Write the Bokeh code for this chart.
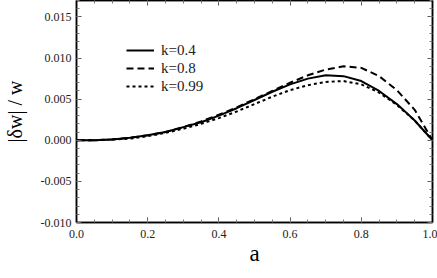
from bokeh.plotting import figure
from bokeh.models import (Range1d, FixedTicker, LinearAxis, Legend, LegendItem,
                          CustomJSTickFormatter)
from bokeh.embed import file_html
from bokeh.resources import INLINE

a_vals = [0.00, 0.05, 0.10, 0.15, 0.20, 0.25, 0.30, 0.35, 0.40, 0.45, 0.50,
          0.55, 0.60, 0.65, 0.70, 0.75, 0.80, 0.85, 0.90, 0.95, 1.00]
k04 = [0.0, 0.0, 0.0001, 0.0003, 0.0006, 0.0010, 0.0016, 0.0022, 0.0030, 0.0039, 0.0049,
       0.0059, 0.0068, 0.0075, 0.0079, 0.0078, 0.0072, 0.0060, 0.0044, 0.0024, 0.0]
k08 = [0.0, 0.0, 0.0001, 0.0003, 0.0006, 0.0010, 0.0016, 0.0023, 0.0031, 0.0040, 0.0050,
       0.0060, 0.0070, 0.0079, 0.0086, 0.0090, 0.0088, 0.0078, 0.0061, 0.0037, 0.0]
k099 = [0.0, 0.0, 0.0001, 0.0002, 0.0005, 0.0009, 0.0014, 0.0020, 0.0027, 0.0035, 0.0044,
        0.0053, 0.0061, 0.0067, 0.0071, 0.0072, 0.0068, 0.0058, 0.0043, 0.0024, 0.0]
labels = ["k=0.4", "k=0.8", "k=0.99"]

x_ticks = [0.0, 0.2, 0.4, 0.6, 0.8, 1.0]
x_tick_labels = ["0.0", "0.2", "0.4", "0.6", "0.8", "1.0"]
y_ticks = [-0.010, -0.005, 0.000, 0.005, 0.010, 0.015]
y_tick_labels = ["-0.010", "-0.005", "0.000", "0.005", "0.010", "0.015"]
x_minor = [i * 0.05 for i in range(21)]
y_minor = [round(-0.010 + i * 0.001, 4) for i in range(28)]

SERIF = "Liberation Serif"

p = figure(width=437, height=268, output_backend="svg", toolbar_location=None,
           x_range=Range1d(0, 1), y_range=Range1d(-0.010, 0.017),
           min_border_left=75, min_border_right=5, min_border_top=0, min_border_bottom=0)
p.grid.visible = False
p.outline_line_color = "black"
p.outline_line_width = 1.5
p.background_fill_color = "white"
p.border_fill_color = "white"

r1 = p.line(a_vals, k04, line_color="black", line_width=2)
r2 = p.line(a_vals, k08, line_color="black", line_width=2, line_dash="7 4")
r3 = p.line(a_vals, k099, line_color="black", line_width=2, line_dash="3 3")

xt = FixedTicker(ticks=x_ticks, minor_ticks=x_minor)
yt = FixedTicker(ticks=y_ticks, minor_ticks=y_minor)

def style_axis(ax):
    ax.axis_line_color = "black"
    ax.axis_line_width = 1.5
    ax.major_tick_in = 5
    ax.major_tick_out = 0
    ax.minor_tick_in = 3
    ax.minor_tick_out = 0
    ax.major_tick_line_color = "#555555"
    ax.minor_tick_line_color = "#777777"
    ax.major_label_text_font = SERIF
    ax.major_label_text_font_size = "12px"
    ax.major_label_text_color = "#222222"
    ax.axis_label_text_font = SERIF
    ax.axis_label_text_font_style = "normal"
    ax.axis_label_text_color = "black"

xa = p.xaxis[0]
xa.ticker = xt
xa.major_label_overrides = dict(zip(x_ticks, x_tick_labels))
xa.axis_label = "a"
style_axis(xa)
xa.axis_label_text_font_size = "23px"
xa.major_label_standoff = 7
xa.axis_label_standoff = 0

ya = p.yaxis[0]
ya.ticker = yt
ya.major_label_overrides = dict(zip(y_ticks, y_tick_labels))
ya.axis_label = "|δw| / w"
style_axis(ya)
ya.axis_label_text_font_size = "20px"
ya.major_label_standoff = 5
ya.axis_label_standoff = 12

blank = CustomJSTickFormatter(code="return ''")
ra = LinearAxis(ticker=FixedTicker(ticks=y_ticks, minor_ticks=y_minor), formatter=blank)
style_axis(ra)
ra.major_label_standoff = 0
ra.axis_label_standoff = 0
ra.major_label_text_font_size = "1px"
p.add_layout(ra, "right")
ta = LinearAxis(ticker=FixedTicker(ticks=x_ticks, minor_ticks=x_minor), formatter=blank)
style_axis(ta)
ta.major_label_standoff = 0
ta.axis_label_standoff = 0
ta.major_label_text_font_size = "1px"
p.add_layout(ta, "above")

legend = Legend(items=[LegendItem(label=labels[0], renderers=[r1]),
                       LegendItem(label=labels[1], renderers=[r2]),
                       LegendItem(label=labels[2], renderers=[r3])],
                location=(50, 127), orientation="vertical")
legend.border_line_color = None
legend.background_fill_alpha = 0
legend.padding = 0
legend.margin = 0
legend.spacing = 0
legend.glyph_width = 28
legend.glyph_height = 18
legend.label_height = 18
legend.label_standoff = 7
legend.label_text_font = SERIF
legend.label_text_font_size = "15px"
legend.label_text_color = "#222222"
p.add_layout(legend, "center")

open("out.html", "w").write(file_html(p, INLINE))
